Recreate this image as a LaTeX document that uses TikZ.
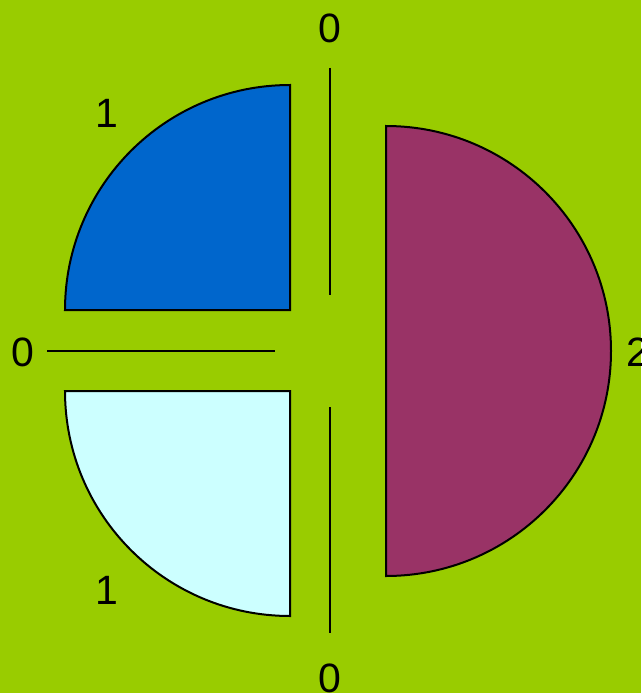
\documentclass[tikz,border=0pt]{standalone}
\usepackage{fontspec}
\setmainfont{Liberation Sans}
\usepackage{xcolor}

\definecolor{leafgreen}{HTML}{99CC00}
\definecolor{deepblue}{HTML}{0066CC}
\definecolor{paleaqua}{HTML}{CCFFFF}
\definecolor{plum}{HTML}{993366}

\begin{document}
\begin{tikzpicture}[
    x=1pt, y=-1pt,
    % Shape styles
    piece/.style={
        draw=black,
        line width=2pt,
        fill=#1
    },
    bar/.style={
        draw=black,
        line width=2pt
    },
    digit/.style={
        font=\fontsize{41}{46}\selectfont,
        text=black,
        inner sep=0pt
    }
]

% ===== Background =====

\useasboundingbox (0,0) rectangle (641,693);
\fill[leafgreen] (0,0) rectangle (641,693);

% ===== Pieces =====

% Upper quarter
\draw[piece=deepblue] (65,310) arc[start angle=180, end angle=90, radius=225pt]
    -- (290,310) -- cycle;

% Lower quarter
\draw[piece=paleaqua] (65,391) arc[start angle=180, end angle=270, radius=225pt]
    -- (290,391) -- cycle;

% Right half
\draw[piece=plum] (386,126) arc[start angle=90, end angle=-90, radius=225pt]
    -- cycle;

% ===== Bars =====

\coordinate (uptop) at (330,68);
\coordinate (upbot) at (330,295);
\coordinate (lowtop) at (330,407);
\coordinate (lowbot) at (330,633);
\coordinate (leftend) at (47,351);
\coordinate (rightend) at (275,351);

\draw[bar] (uptop) -- (upbot);
\draw[bar] (lowtop) -- (lowbot);
\draw[bar] (leftend) -- (rightend);

% ===== Labels =====

\node[digit] (ztop) at (330,28) {0};
\node[digit] (oneup) at (107,113) {1};
\node[digit] (zleft) at (23,352) {0};
\node[digit] (two) at (638,352) {2};
\node[digit] (onelow) at (107,590) {1};
\node[digit] (zbot) at (330,678) {0};

\end{tikzpicture}
\end{document}
